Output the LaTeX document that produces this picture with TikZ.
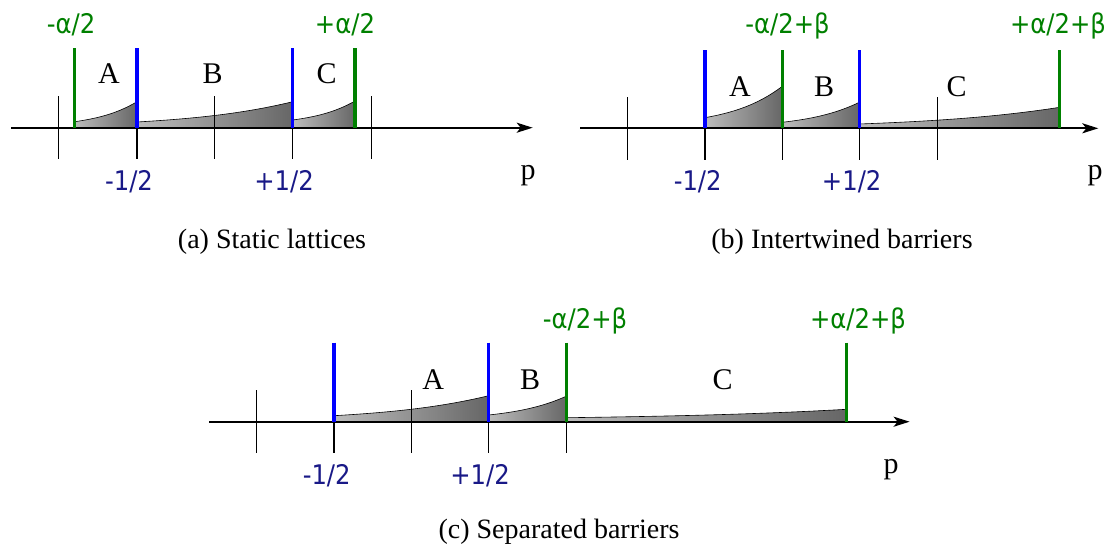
\documentclass[tikz,border=0pt]{standalone}
\usepackage{fontspec}
\setmainfont{Liberation Serif}
\newfontfamily\labfont[FakeStretch=0.9]{DejaVu Sans}
\usetikzlibrary{arrows.meta}
\definecolor{bargreen}{RGB}{0,128,0}
\definecolor{barblue}{RGB}{0,0,255}
\definecolor{numblue}{RGB}{25,25,135}
% #1 x0, #2 x1, #3 h0, #4 h1, #5 axis y
\newcommand\shadearea[5]{%
  \path[area] (#1,#5) -- (#1,{#5-#3})
    .. controls ({#1+(#2-#1)/3},{#5-#3-0.151*(#4-#3)}) and ({#2-(#2-#1)/3},{#5-#3-0.377*(#4-#3)})
    .. (#2,{#5-#4}) -- (#2,#5) -- cycle;}
\begin{document}
\begin{tikzpicture}[x=1pt,y=-1pt,
  axisline/.style={line width=2pt,-{Stealth[length=16pt,width=10pt,inset=4pt]}},
  tickline/.style={line width=1.4pt},
  gbar/.style={line width=3.5pt,draw=bargreen},
  bbar/.style={line width=3.5pt,draw=barblue},
  area/.style={draw=black,line width=0.6pt,left color=black!26,right color=black!60},
  glab/.style={font=\labfont\fontsize{27}{30}\selectfont,text=bargreen,anchor=base,inner sep=0pt},
  nlab/.style={font=\labfont\fontsize{27}{30}\selectfont,text=numblue,anchor=base,inner sep=0pt},
  rlab/.style={font=\fontsize{30}{34}\selectfont,anchor=base,inner sep=0pt},
  caplab/.style={font=\fontsize{28}{34}\selectfont,anchor=base,inner sep=0pt}]
\useasboundingbox (0,0) rectangle (1110,547);

% ---------- (a) ----------
\shadearea{74.7}{137}{6}{26}{127.7}
\shadearea{137}{292.7}{5.7}{26}{127.7}
\shadearea{292.7}{355}{7.7}{26.7}{127.7}
\coordinate (aS) at (11,127.7);
\coordinate (aE) at (532.7,127.7);
\draw[axisline] (aS) -- (aE);
\foreach \x in {58.7,137,214.7,292.7,371.3}{\draw[tickline] (\x,96) -- (\x,159.3);}
\draw[gbar] (74.7,48.3) -- (74.7,127.7);
\draw[bbar] (137,48.3) -- (137,127.7);
\draw[bbar] (292.7,48.3) -- (292.7,127.7);
\draw[gbar] (355,48.3) -- (355,127.7);
\node[glab] (a1) at (71,33.3) {-α/2};
\node[glab] (a2) at (345,33.3) {+α/2};
\node[rlab] (aA) at (109,83.3) {A};
\node[rlab] (aB) at (212.7,83.3) {B};
\node[rlab] (aC) at (326.7,83.3) {C};
\node[nlab] (a3) at (129,190) {-1/2};
\node[nlab] (a4) at (284,190) {+1/2};
\node[rlab] (ap) at (528,179) {p};
\node[caplab] (acap) at (272,248) {(a) Static lattices};

% ---------- (b) ----------
\shadearea{705}{782.3}{10.6}{42}{128.3}
\shadearea{782.3}{859.3}{6}{26}{128.3}
\shadearea{859.3}{1059.7}{4.3}{21}{128.3}
\coordinate (bS) at (580,128.3);
\coordinate (bE) at (1098.3,128.3);
\draw[axisline] (bS) -- (bE);
\foreach \x in {627.7,705,782.3,859.3,937.7}{\draw[tickline] (\x,97.3) -- (\x,160);}
\draw[bbar] (705,50) -- (705,128.3);
\draw[gbar] (782.3,50) -- (782.3,128.3);
\draw[bbar] (859.3,50) -- (859.3,128.3);
\draw[gbar] (1059.7,50) -- (1059.7,128.3);
\node[glab] (b1) at (787.5,33.3) {-α/2+β};
\node[glab] (b2) at (1058,33.3) {+α/2+β};
\node[rlab] (bA) at (740,96.7) {A};
\node[rlab] (bB) at (824,96.7) {B};
\node[rlab] (bC) at (956.7,96.7) {C};
\node[nlab] (b3) at (697.7,190) {-1/2};
\node[nlab] (b4) at (851.7,190) {+1/2};
\node[rlab] (bp) at (1095,179) {p};
\node[caplab] (bcap) at (842,248) {(b) Intertwined barriers};

% ---------- (c) ----------
\shadearea{334}{488.7}{6}{26}{421.7}
\shadearea{488.7}{566.7}{6.7}{25.7}{421.7}
\shadearea{566.7}{846.5}{4}{12.4}{421.7}
\coordinate (cS) at (209,421.7);
\coordinate (cE) at (909.6,421.7);
\draw[axisline] (cS) -- (cE);
\foreach \x in {256.7,334,411.7,488.7,566.7}{\draw[tickline] (\x,390) -- (\x,453.3);}
\draw[bbar] (334,342.7) -- (334,421.7);
\draw[bbar] (488.7,342.7) -- (488.7,421.7);
\draw[gbar] (566.7,342.7) -- (566.7,421.7);
\draw[gbar] (846.5,342.7) -- (846.5,421.7);
\node[glab] (c1) at (585,328) {-α/2+β};
\node[glab] (c2) at (858,328) {+α/2+β};
\node[rlab] (cA) at (433.3,389) {A};
\node[rlab] (cB) at (530,389) {B};
\node[rlab] (cC) at (722.7,389) {C};
\node[nlab] (c3) at (326.7,484.3) {-1/2};
\node[nlab] (c4) at (480,484.3) {+1/2};
\node[rlab] (cp) at (891,473) {p};
\node[caplab] (ccap) at (559,538.3) {(c) Separated barriers};
\end{tikzpicture}
\end{document}
